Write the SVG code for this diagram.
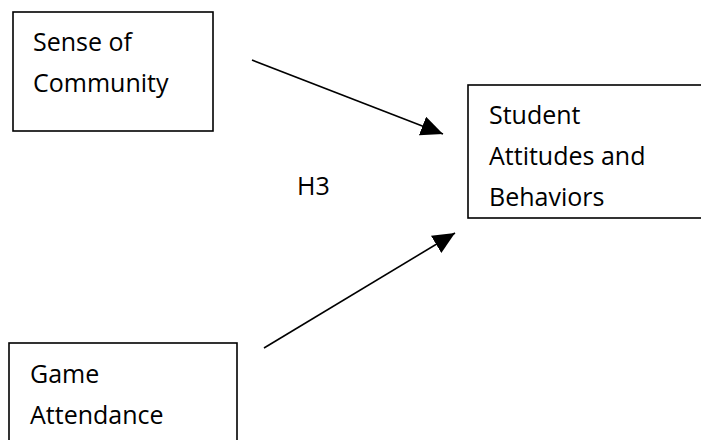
<svg xmlns="http://www.w3.org/2000/svg" width="701" height="440" viewBox="0 0 701 440">
<style>
.box{fill:#fff;stroke:#000;stroke-width:1.6}
.t{font-family:"Open Sans","Noto Sans",sans-serif;font-size:25px;fill:#000}
.c{stroke:#000;stroke-width:1.6;fill:none}
</style>
<defs>
<marker id="ah" markerUnits="userSpaceOnUse" markerWidth="23" markerHeight="21" refX="22" refY="10" orient="auto" viewBox="0 0 23 21">
<path d="M0,0 L22,10 L0,20 z" fill="#000"/>
</marker>
</defs>
<rect width="701" height="440" fill="#fff"/>
<g id="sense-of-community">
<rect class="box" x="13" y="12" width="200" height="119"/>
<text class="t" x="33" y="51">Sense of</text>
<text class="t" x="33" y="92">Community</text>
</g>
<g id="student-attitudes">
<rect class="box" x="468" y="85" width="250" height="133"/>
<text class="t" x="489" y="124">Student</text>
<text class="t" x="489" y="165">Attitudes and</text>
<text class="t" x="489" y="206">Behaviors</text>
</g>
<g id="game-attendance">
<rect class="box" x="9" y="343" width="228" height="120"/>
<text class="t" x="30" y="383">Game</text>
<text class="t" x="30" y="424">Attendance</text>
</g>
<g id="label-h3">
<text class="t" x="297" y="195">H3</text>
</g>
<g id="connectors">
<line class="c" x1="252" y1="60" x2="443" y2="134" marker-end="url(#ah)"/>
<line class="c" x1="264" y1="348" x2="455" y2="233" marker-end="url(#ah)"/>
</g>
</svg>
